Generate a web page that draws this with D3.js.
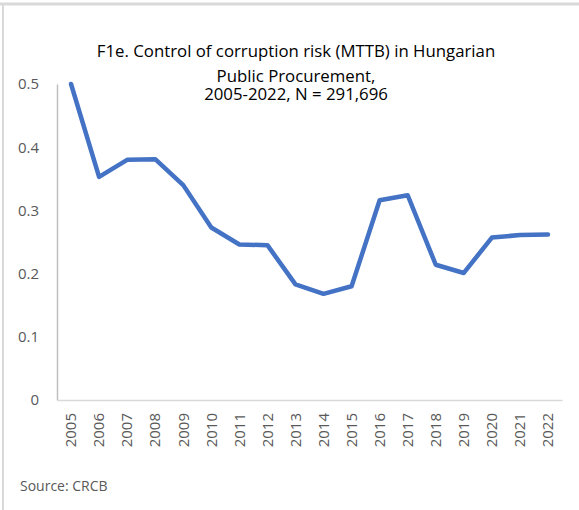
<!doctype html>
<html>
<head>
<meta charset="utf-8">
<title>F1e. Control of corruption risk</title>
<script src="https://d3js.org/d3.v7.min.js"></script>
<style>
  body { margin: 0; background: #fff; }
  svg { display: block; }
</style>
</head>
<body>
<div id="viz"></div>
<script>
  // data
  var years = ["2005","2006","2007","2008","2009","2010","2011","2012","2013",
               "2014","2015","2016","2017","2018","2019","2020","2021","2022"];
  var risk = [0.500, 0.353, 0.380, 0.381, 0.340, 0.273, 0.246, 0.245, 0.183,
              0.168, 0.180, 0.316, 0.324, 0.214, 0.201, 0.257, 0.261, 0.262];
  var yTicks = [0, 0.1, 0.2, 0.3, 0.4, 0.5];
  var titleLines = ["F1e. Control of corruption risk (MTTB) in Hungarian",
                    "Public Procurement,",
                    "2005-2022, N = 291,696"];

  var W = 579, H = 510;
  var plotLeft = 57, plotRight = 562, plotTop = 84, plotBottom = 400;
  var font = "Open Sans, sans-serif";

  var svg = d3.select("#viz").append("svg")
    .attr("width", W).attr("height", H);

  // chart frame (only top and left edges show)
  svg.append("line").attr("x1", 0).attr("x2", W).attr("y1", 4).attr("y2", 4)
    .style("stroke", "#d9d9d9").style("stroke-width", 3);
  svg.append("line").attr("x1", 3).attr("x2", 3).attr("y1", 4).attr("y2", H)
    .style("stroke", "#d9d9d9").style("stroke-width", 2);

  var x = d3.scaleBand().domain(years).range([plotLeft, plotRight]);
  var y = d3.scaleLinear().domain([0, 0.5]).range([plotBottom, plotTop]);

  // title
  var titleY = [57, 82, 100];
  svg.selectAll("text.title")
    .data(titleLines)
    .enter()
    .append("text")
    .attr("class", "title")
    .attr("x", 296)
    .attr("y", function(d, i) { return titleY[i]; })
    .attr("text-anchor", "middle")
    .style("font-family", font)
    .style("font-size", "16.8px")
    .style("fill", "#000")
    .text(function(d) { return d; });

  // y axis
  var yAxis = svg.append("g")
    .attr("transform", "translate(" + plotLeft + ",0)")
    .call(d3.axisLeft(y).tickValues(yTicks).tickSize(0).tickPadding(18)
      .tickFormat(function(d) { return d === 0 ? "0" : d3.format(".1f")(d); }));
  yAxis.select(".domain").style("stroke", "#bfbfbf").style("stroke-width", 1.5);
  yAxis.selectAll("text")
    .style("font-family", font).style("font-size", "15px").style("fill", "#595959");

  // x axis
  var xAxis = svg.append("g")
    .attr("transform", "translate(0," + plotBottom + ")")
    .call(d3.axisBottom(x).tickSize(0).tickPadding(0));
  xAxis.select(".domain").style("stroke", "#d9d9d9").style("stroke-width", 1.5);
  xAxis.selectAll("text")
    .attr("transform", "rotate(-90)")
    .attr("x", -13).attr("y", 0).attr("dy", "0.35em")
    .style("text-anchor", "end")
    .style("font-family", font).style("font-size", "15px").style("fill", "#595959");

  // line
  var line = d3.line()
    .x(function(d, i) { return x(years[i]) + x.bandwidth() / 2; })
    .y(function(d) { return y(d); });

  svg.append("path")
    .datum(risk)
    .attr("d", line)
    .style("fill", "none")
    .style("stroke", "#4472c4")
    .style("stroke-width", 4.5)
    .style("stroke-linejoin", "round")
    .style("stroke-linecap", "round");

  svg.append("text")
    .attr("x", 20).attr("y", 491)
    .style("font-family", font).style("font-size", "14px").style("fill", "#595959")
    .text("Source: CRCB");
</script>
</body>
</html>
